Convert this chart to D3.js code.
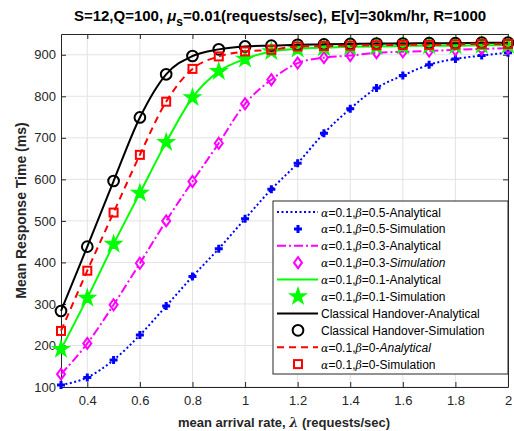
<!DOCTYPE html>
<html>
<head>
<meta charset="utf-8">
<script src="https://cdn.jsdelivr.net/npm/d3@7"></script>
<style>
  body { margin: 0; background: #fff; }
  svg text { font-family: "Liberation Sans", Arial, sans-serif; }
</style>
</head>
<body>
<svg id="chart" width="514" height="431"></svg>
<script>
// arrival rates (requests/sec)
var lambdas = [0.3, 0.4, 0.5, 0.6, 0.7, 0.8, 0.9, 1.0, 1.1, 1.2, 1.3, 1.4, 1.5, 1.6, 1.7, 1.8, 1.9, 2.0];

// mean response time (ms)
var beta05 = [105, 123, 165, 225, 295, 366, 433, 505, 576, 639, 711, 770, 820, 850, 876, 890, 898, 905];
var beta03 = [131, 205, 298, 398, 500, 595, 687, 782, 840, 880, 893, 898, 905, 907, 909, 912, 914, 916];
var beta01 = [191, 314, 444, 567, 689, 797, 860, 890, 908, 914, 917, 919, 920, 921, 922, 922, 923, 923];
var classical = [283, 438, 596, 749, 853, 897, 913, 920, 922, 924, 925, 926, 927, 927, 928, 928, 929, 929];
var beta0 = [235, 380, 520, 659, 787, 866, 896, 908, 912, 920, 921, 922, 923, 924, 924, 925, 926, 926];

var xTicks = [0.4, 0.6, 0.8, 1, 1.2, 1.4, 1.6, 1.8, 2];
var yTicks = [100, 200, 300, 400, 500, 600, 700, 800, 900];

var svg = d3.select('#chart');
var margin = {top: 34, right: 6, bottom: 44, left: 61};
var W = 514, H = 431;
var w = W - margin.left - margin.right, h = H - margin.top - margin.bottom;

var x = d3.scaleLinear().domain([0.3, 2]).range([0, w]);
var y = d3.scaleLinear().domain([100, 950]).range([h, 0]);

var g = svg.append('g').attr('transform', 'translate(' + margin.left + ',' + margin.top + ')');

// grid
g.append('g').selectAll('line').data(xTicks).enter().append('line')
  .attr('x1', function(d){ return x(d); }).attr('x2', function(d){ return x(d); })
  .attr('y1', 0).attr('y2', h).attr('stroke', '#e3e3e3').attr('stroke-width', 1);
g.append('g').selectAll('line').data(yTicks).enter().append('line')
  .attr('y1', function(d){ return y(d); }).attr('y2', function(d){ return y(d); })
  .attr('x1', 0).attr('x2', w).attr('stroke', '#e3e3e3').attr('stroke-width', 1);

// axes (matlab style: ticks inside, box all round)
var axColor = '#262626';
var xAx = g.append('g').attr('transform', 'translate(0,' + h + ')')
  .call(d3.axisBottom(x).tickValues(xTicks).tickSizeInner(-5).tickSizeOuter(0).tickPadding(9)
    .tickFormat(function(d){ return String(d); }));
var xAxTop = g.append('g').call(d3.axisTop(x).tickValues(xTicks).tickSizeInner(-5).tickSizeOuter(0).tickFormat(''));
var yAx = g.append('g')
  .call(d3.axisLeft(y).tickValues(yTicks).tickSizeInner(-5).tickSizeOuter(0).tickPadding(5));
var yAxR = g.append('g').attr('transform', 'translate(' + w + ',0)')
  .call(d3.axisRight(y).tickValues(yTicks).tickSizeInner(-5).tickSizeOuter(0).tickFormat(''));
[xAx, xAxTop, yAx, yAxR].forEach(function(a){
  a.selectAll('path').attr('stroke', axColor).attr('stroke-width', 1);
  a.selectAll('line').attr('stroke', axColor);
  a.selectAll('text').attr('fill', axColor).style('font-size', '13px');
});

// markers
function plusPath(s){ return 'M' + (-s) + ',0L' + s + ',0M0,' + (-s) + 'L0,' + s; }
function diamondPath(a, b){ return 'M0,' + (-b) + 'L' + a + ',0L0,' + b + 'L' + (-a) + ',0Z'; }
var star = d3.symbol().type(d3.symbolStar).size(75)();
var circle = d3.symbol().type(d3.symbolCircle).size(90)();

var series = [
  {vals: beta05, color: '#0000ff', dash: '2,2.5', label: 'β=0.5', alpha: true,
   marker: function(sel){ sel.append('path').attr('d', plusPath(4)).attr('stroke', '#0000ff').attr('stroke-width', 3).attr('fill', 'none'); }},
  {vals: beta03, color: '#ff00ff', dash: '9,3,2,3', label: 'β=0.3', alpha: true,
   marker: function(sel){ sel.append('path').attr('d', diamondPath(4, 5.5)).attr('stroke', '#ff00ff').attr('stroke-width', 2).attr('fill', 'none'); }},
  {vals: beta01, color: '#00ff00', dash: null, label: 'β=0.1', alpha: true,
   marker: function(sel){ sel.append('path').attr('d', star).attr('fill', '#00ff00').attr('stroke', '#00ff00').attr('stroke-width', 1.5); }},
  {vals: classical, color: '#000000', dash: null, label: 'Classical Handover', alpha: false,
   marker: function(sel){ sel.append('path').attr('d', circle).attr('fill', 'none').attr('stroke', '#000').attr('stroke-width', 2); }},
  {vals: beta0, color: '#ff0000', dash: '7,5', label: 'β=0', alpha: true,
   marker: function(sel){ sel.append('rect').attr('x', -4).attr('y', -4).attr('width', 8).attr('height', 8).attr('fill', 'none').attr('stroke', '#ff0000').attr('stroke-width', 2); }}
];

var line = d3.line().x(function(d, i){ return x(lambdas[i]); }).y(function(d){ return y(d); })
  .curve(d3.curveMonotoneX);

series.forEach(function(s){
  g.append('path').datum(s.vals).attr('d', line)
    .attr('fill', 'none').attr('stroke', s.color).attr('stroke-width', 2)
    .attr('stroke-dasharray', s.dash);
  g.append('g').selectAll('g').data(s.vals).enter().append('g')
    .attr('transform', function(d, i){ return 'translate(' + x(lambdas[i]) + ',' + y(d) + ')'; })
    .each(function(){ s.marker(d3.select(this)); });
});

// title
var title = svg.append('text').attr('x', 280).attr('y', 21).attr('text-anchor', 'middle')
  .style('font-size', '15px').style('font-weight', 'bold').attr('fill', '#000');
title.append('tspan').text('S=12,Q=100, ');
title.append('tspan').text('μ').style('font-style', 'italic');
title.append('tspan').text('s').attr('dy', 5).style('font-size', '12px');
title.append('tspan').text('=0.01(requests/sec), E[v]=30km/hr, R=1000').attr('dy', -5);

// axis labels
var xl = svg.append('text').attr('x', 284).attr('y', 427).attr('text-anchor', 'middle')
  .style('font-size', '13px').style('font-weight', 'bold').attr('fill', axColor);
xl.append('tspan').text('mean arrival rate,  ');
xl.append('tspan').text('λ').style('font-family', '"DejaVu Serif", serif').style('font-style', 'italic');
xl.append('tspan').text(' (requests/sec)');

svg.append('text').attr('transform', 'translate(26,' + (margin.top + h / 2) + ') rotate(-90)')
  .attr('text-anchor', 'middle').style('font-size', '14px').style('font-weight', 'bold')
  .attr('fill', axColor).text('Mean Response Time (ms)');

// legend
var lg = svg.append('g').attr('transform', 'translate(273,201)');
lg.append('rect').attr('width', 235).attr('height', 173).attr('fill', '#fff')
  .attr('stroke', '#262626').attr('stroke-width', 1);
var rowH = 16.9;
var italicTail = {'β=0.3-Simulation': true, 'β=0-Analytical': true};
var entries = [];
series.forEach(function(s){
  entries.push({s: s, kind: 'Analytical'});
  entries.push({s: s, kind: 'Simulation'});
});
entries.forEach(function(e, i){
  var cy = 11 + i * rowH;
  var row = lg.append('g').attr('transform', 'translate(0,' + cy + ')');
  if (e.kind === 'Analytical') {
    row.append('line').attr('x1', 4).attr('x2', 45).attr('y1', 0).attr('y2', 0)
      .attr('stroke', e.s.color).attr('stroke-width', 2).attr('stroke-dasharray', e.s.dash);
  } else {
    e.s.marker(row.append('g').attr('transform', 'translate(25,0)'));
  }
  var t = row.append('text').attr('x', 48).attr('y', 4.5).style('font-size', '12px').attr('fill', '#000');
  if (e.s.alpha) {
    t.append('tspan').text('α').style('font-family', '"DejaVu Serif", serif').style('font-style', 'italic').style('font-size', '11px');
    t.append('tspan').text('=0.1,');
    t.append('tspan').text('β').style('font-family', '"DejaVu Serif", serif').style('font-style', 'italic').style('font-size', '11px');
    var rest = e.s.label.slice(1) + '-';
    t.append('tspan').text(rest);
    var tail = t.append('tspan').text(e.kind);
    if (italicTail[e.s.label + '-' + e.kind]) tail.style('font-style', 'italic');
  } else {
    t.text(e.s.label + '-' + e.kind);
  }
});
</script>
</body>
</html>
